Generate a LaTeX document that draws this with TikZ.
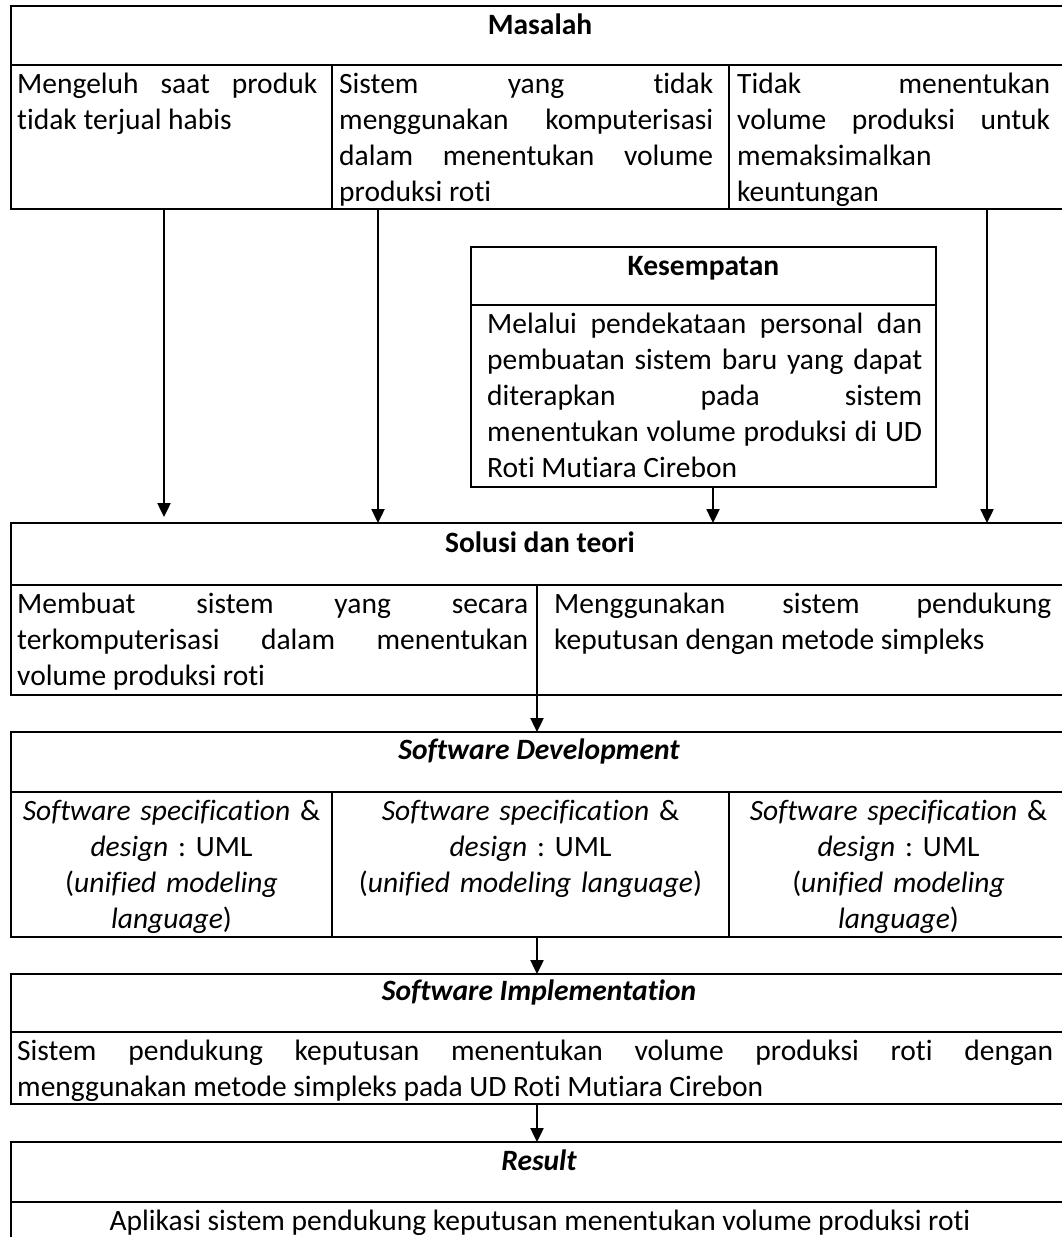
\documentclass[tikz,border=0pt]{standalone}
\usepackage{fontspec}
\setmainfont{Carlito}[Ligatures={NoCommon}]
\usetikzlibrary{arrows.meta}
\tolerance=10000
\pretolerance=-1
\hyphenpenalty=10000
\exhyphenpenalty=10000
\hbadness=10000
\frenchspacing
\begin{document}
\begin{tikzpicture}[x=1pt,y=-1pt,
  frame/.style={draw, line width=2.4pt, inner sep=0pt, outer sep=0pt, anchor=north west},
  rule/.style={line width=2.4pt},
  txt/.style={inner sep=0pt, font=\fontsize{29.5}{36}\selectfont\frenchspacing},
  jt/.style={txt, align=justify, anchor=base west},
  ct/.style={txt, align=center, anchor=base},
  arr/.style={line width=2.4pt, -{Triangle[width=13pt,length=14pt]}}]
\fill[white] (0,0) rectangle (1061,1237);
\useasboundingbox (0,0) rectangle (1061,1237);

% ---------- Masalah ----------
\node[frame, minimum width=1057pt, minimum height=203pt] (masalah) at (11,6) {};
\draw[rule] (11,65) -- (1068,65);
\draw[rule] (332,65) -- (332,209);
\draw[rule] (729,65) -- (729,209);
\node[ct] (tmasalah) at (540,34) {\bfseries Masalah};
\node[jt, text width=300pt] (m1) at (17,93.5) {Mengeluh saat produk\linebreak tidak terjual habis};
\node[jt, text width=374pt] (m2) at (339,93.5) {Sistem yang tidak\linebreak menggunakan komputerisasi\linebreak dalam menentukan volume\linebreak produksi roti};
\node[jt, text width=313pt] (m3) at (737,93.5) {Tidak menentukan\linebreak volume produksi untuk\linebreak memaksimalkan\linebreak keuntungan};

% ---------- Kesempatan ----------
\node[frame, minimum width=465pt, minimum height=240pt] (kesempatan) at (471,247) {};
\draw[rule] (471,305) -- (936,305);
\node[ct] (tkesempatan) at (703.5,275) {\bfseries Kesempatan};
\node[jt, text width=435pt] (k1) at (487,333.5) {Melalui pendekataan personal dan\linebreak pembuatan sistem baru yang dapat\linebreak diterapkan pada sistem\linebreak menentukan volume produksi di UD\linebreak Roti Mutiara Cirebon};

% ---------- Solusi dan teori ----------
\node[frame, minimum width=1057pt, minimum height=172pt] (solusi) at (11,523) {};
\draw[rule] (11,585) -- (1068,585);
\draw[rule] (537,585) -- (537,695);
\node[ct] (tsolusi) at (540,552) {\bfseries Solusi dan teori};
\node[jt, text width=511pt] (s1) at (17,613.5) {Membuat sistem yang secara\linebreak terkomputerisasi dalam menentukan\linebreak volume produksi roti};
\node[jt, text width=497pt] (s2) at (554,613.5) {Menggunakan sistem pendukung\linebreak keputusan dengan metode simpleks};

% ---------- Software Development ----------
\node[frame, minimum width=1057pt, minimum height=205pt] (sd) at (11,732) {};
\draw[rule] (11,792) -- (1068,792);
\draw[rule] (332,792) -- (332,937);
\draw[rule] (729,792) -- (729,937);
\node[ct] (tsd) at (539,759) {\bfseries\itshape Software Development};
\node[ct, text width=310pt] (d1) at (171.5,820.5) {\textit{Software specification} \&\\ \textit{design} : UML\\ (\textit{unified modeling}\\ \textit{language})};
\node[ct, text width=385pt] (d2) at (530.5,820.5) {\textit{Software specification} \&\\ \textit{design} : UML\\ (\textit{unified modeling language})};
\node[ct, text width=330pt] (d3) at (898.5,820.5) {\textit{Software specification} \&\\ \textit{design} : UML\\ (\textit{unified modeling}\\ \textit{language})};

% ---------- Software Implementation ----------
\node[frame, minimum width=1057pt, minimum height=130pt] (si) at (11,974) {};
\draw[rule] (11,1032) -- (1068,1032);
\node[ct] (tsi) at (539,1000) {\bfseries\itshape Software Implementation};
\node[jt, text width=1036pt] (i1) at (17,1060) {Sistem pendukung keputusan menentukan volume produksi roti dengan\linebreak menggunakan metode simpleks pada UD Roti Mutiara Cirebon};

% ---------- Result ----------
\node[frame, minimum width=1057pt, minimum height=130pt] (result) at (11,1142) {};
\draw[rule] (11,1202) -- (1068,1202);
\node[ct] (tresult) at (539,1170) {\bfseries\itshape Result};
\node[ct] (r1) at (540,1230) {Aplikasi sistem pendukung keputusan menentukan volume produksi roti};

% ---------- Connectors ----------
\coordinate (ax1) at (164,0);
\coordinate (ax2) at (378,0);
\coordinate (ax3) at (713,0);
\coordinate (ax4) at (987,0);
\coordinate (amid) at (537,0);
\coordinate (a1end) at (164,517);
\draw[arr] (masalah.south -| ax1) -- (a1end);
\draw[arr] (masalah.south -| ax2) -- (solusi.north -| ax2);
\draw[arr] (kesempatan.south -| ax3) -- (solusi.north -| ax3);
\draw[arr] (masalah.south -| ax4) -- (solusi.north -| ax4);
\draw[arr] (solusi.south -| amid) -- (sd.north -| amid);
\draw[arr] (sd.south -| amid) -- (si.north -| amid);
\draw[arr] (si.south -| amid) -- (result.north -| amid);
\end{tikzpicture}
\end{document}
